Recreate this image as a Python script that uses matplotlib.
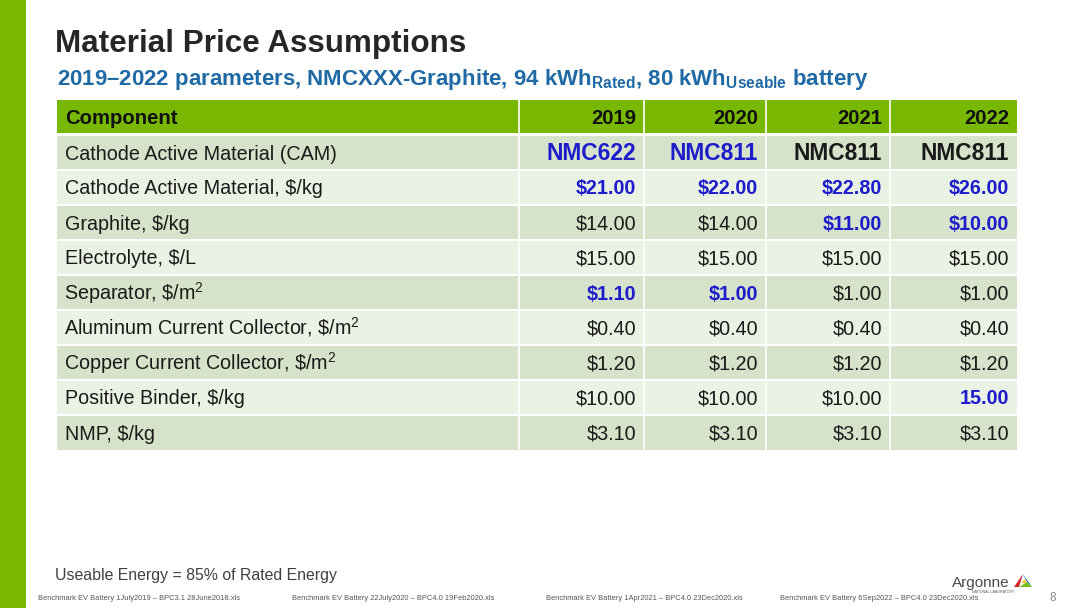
import matplotlib
matplotlib.use('Agg')
import matplotlib.pyplot as plt
from matplotlib.patches import Rectangle, Polygon

plt.rcParams['font.family'] = ['Liberation Sans', 'DejaVu Sans']
plt.rcParams['mathtext.fontset'] = 'custom'
plt.rcParams['mathtext.rm'] = 'Liberation Sans'
plt.rcParams['mathtext.bf'] = 'Liberation Sans:bold'

# table data
years = ['2019', '2020', '2021', '2022']
components = [
    'Cathode Active Material (CAM)',
    'Cathode Active Material, $/kg',
    'Graphite, $/kg',
    'Electrolyte, $/L',
    r'Separator, \$/m$^{2}$',
    r'Aluminum Current Collector, \$/m$^{2}$',
    r'Copper Current Collector, \$/m$^{2}$',
    'Positive Binder, $/kg',
    'NMP, $/kg',
]
col_2019 = ['NMC622', '$21.00', '$14.00', '$15.00', '$1.10', '$0.40', '$1.20', '$10.00', '$3.10']
col_2020 = ['NMC811', '$22.00', '$14.00', '$15.00', '$1.00', '$0.40', '$1.20', '$10.00', '$3.10']
col_2021 = ['NMC811', '$22.80', '$11.00', '$15.00', '$1.00', '$0.40', '$1.20', '$10.00', '$3.10']
col_2022 = ['NMC811', '$26.00', '$10.00', '$15.00', '$1.00', '$0.40', '$1.20', '15.00', '$3.10']
# values that changed (shown in blue bold)
changed_2019 = [1, 1, 0, 0, 1, 0, 0, 0, 0]
changed_2020 = [1, 1, 0, 0, 1, 0, 0, 0, 0]
changed_2021 = [0, 1, 1, 0, 0, 0, 0, 0, 0]
changed_2022 = [0, 1, 1, 0, 0, 0, 0, 1, 0]

footers = [
    'Benchmark EV Battery 1July2019 \u2013 BPC3.1 28June2018.xls',
    'Benchmark EV Battery 22July2020 \u2013 BPC4.0 19Feb2020.xls',
    'Benchmark EV Battery 1Apr2021 \u2013 BPC4.0 23Dec2020.xls',
    'Benchmark EV Battery 6Sep2022 \u2013 BPC4.0 23Dec2020.xls',
]

columns = [col_2019, col_2020, col_2021, col_2022]
changed = [changed_2019, changed_2020, changed_2021, changed_2022]

GREEN = '#78b800'
ROW_DARK = '#d6e2c9'
ROW_LIGHT = '#eaf2e4'
BLUE = '#1c1ccc'
TITLE_BLUE = '#1f6aa5'

fig = plt.figure(figsize=(10.8, 6.08), dpi=100)
ax = fig.add_axes([0, 0, 1, 1])
ax.set_xlim(0, 1080)
ax.set_ylim(608, 0)
ax.axis('off')

# left green band
ax.add_patch(Rectangle((0, 0), 26, 608, color=GREEN, lw=0))

ax.text(55, 52, 'Material Price Assumptions', fontsize=22.6, fontweight='bold',
        color='#262626', va='baseline')
ax.text(57, 85, r'2019–2022 parameters, NMCXXX-Graphite, 94 $\mathbf{kWh}_{\mathbf{Rated}}$, '
        r'80 $\mathbf{kWh}_{\mathbf{Useable}}$ battery',
        fontsize=16, fontweight='bold', color=TITLE_BLUE, va='baseline')

# table geometry
col_edges = [57, 519, 644, 766, 890, 1017]
top = 100
head_h = 33
row_h = 35
fs = 14.2

# header
ax.add_patch(Rectangle((col_edges[0], top), col_edges[-1] - col_edges[0], head_h,
                       color=GREEN, lw=0))
ax.text(col_edges[0] + 8, top + head_h / 2 + 7.5, 'Component', fontsize=14.6,
        fontweight='bold', color='#111111', va='baseline')
for j, yr in enumerate(years):
    ax.text(col_edges[j + 2] - 8, top + head_h / 2 + 7.5, yr, fontsize=14.6,
            fontweight='bold', color='#111111', va='baseline', ha='right')

y0 = top + head_h + 2
for i, comp in enumerate(components):
    y = y0 + i * row_h
    fc = ROW_DARK if i % 2 == 0 else ROW_LIGHT
    ax.add_patch(Rectangle((col_edges[0], y), col_edges[-1] - col_edges[0], row_h,
                           color=fc, lw=0))
    # mathtext labels start about a pixel further right
    dx = 7 if '$^' in comp else 8
    ax.text(col_edges[0] + dx, y + row_h / 2 + 7, comp, fontsize=fs,
            color='#1a1a1a', va='baseline')
    for j, col in enumerate(columns):
        hl = changed[j][i]
        big = i == 0
        ax.text(col_edges[j + 2] - 8, y + row_h / 2 + (8 if big else 7), col[i],
                fontsize=16.4 if big else fs,
                fontweight='bold' if (hl or big) else 'normal',
                color=BLUE if hl else '#1a1a1a', va='baseline', ha='right')
    # row separator
    ax.plot([col_edges[0], col_edges[-1]], [y, y], color='white', lw=1.5)

table_bottom = y0 + len(components) * row_h
for xe in col_edges[1:-1]:
    ax.plot([xe, xe], [top, table_bottom], color='white', lw=1.2)

ax.text(55, 580, 'Useable Energy = 85% of Rated Energy', fontsize=11.4,
        color='#404040', va='baseline')

foot_x = [38, 292, 546, 780]
for fx, ft in zip(foot_x, footers):
    ax.text(fx, 599, ft, fontsize=5.4, color='#555555', va='center')

ax.text(1050, 598, '8', fontsize=8.5, color='#888888', va='center')

# Argonne logo
ax.text(952, 587, 'Argonne', fontsize=11, color='#4a4a4a', va='baseline')
ax.text(972, 592, 'NATIONAL LABORATORY', fontsize=2.6, color='#555555', va='center')
ax.add_patch(Polygon([[1014, 587], [1023, 574], [1019, 587]], color='#d22630', lw=0))
ax.add_patch(Polygon([[1023, 574], [1032, 587], [1027, 582]], color='#0072ce', lw=0))
ax.add_patch(Polygon([[1019, 587], [1032, 587], [1027, 582]], color='#78be20', lw=0))
ax.add_patch(Polygon([[1021, 583], [1025, 579], [1027, 583]], color='#ffc72c', lw=0))

fig.savefig('out.png', dpi=100)
